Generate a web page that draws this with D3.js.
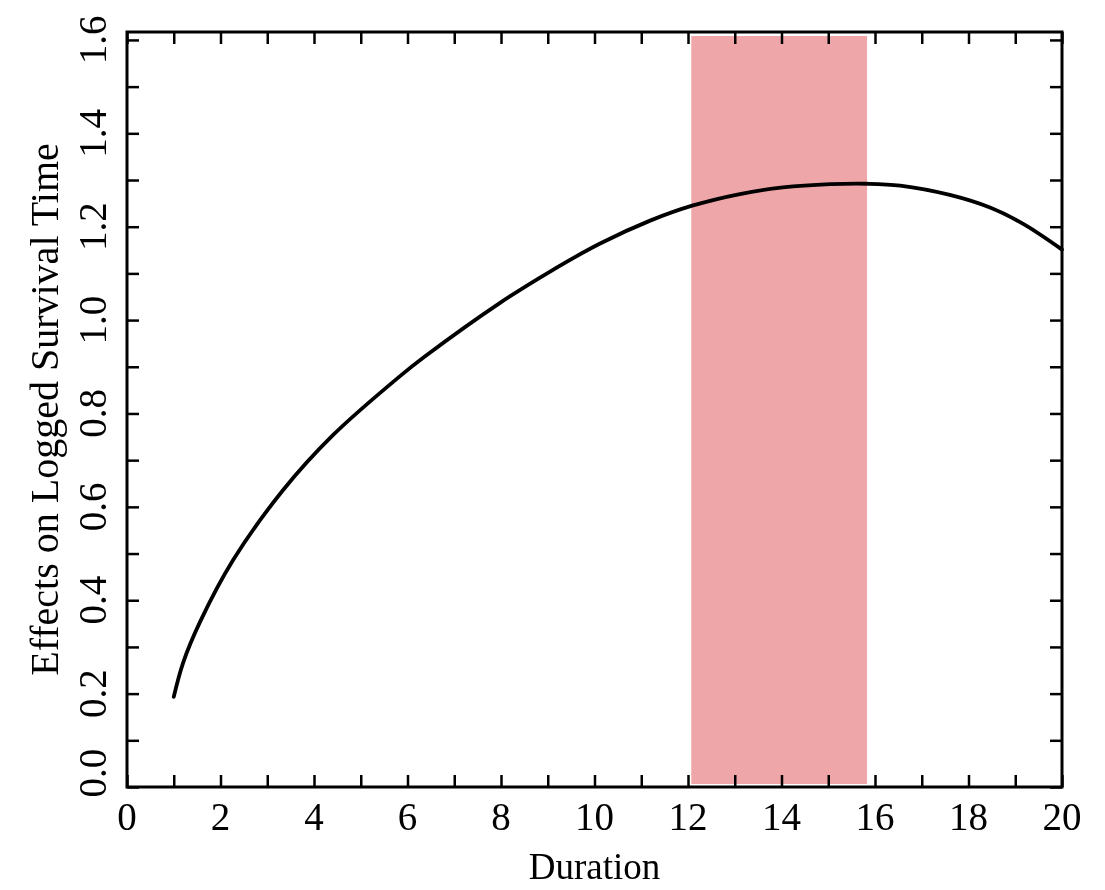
<!DOCTYPE html>
<html>
<head>
<meta charset="utf-8">
<script src="https://cdn.jsdelivr.net/npm/d3@7"></script>
<style>
  body { margin: 0; background: #fff; }
  text { font-family: "Liberation Serif", "DejaVu Serif", serif; fill: #000; }
</style>
</head>
<body>
<script>
// values
let duration = [1.0, 1.2, 1.56, 2.27, 3.34, 4.41, 5.84, 6.37, 7.98, 9.05, 10.12, 11.19, 12.09, 13.11, 14.03, 15.04, 15.83, 16.54, 17.6, 18.46, 19.17, 20.0];
let effect = [0.193, 0.266, 0.353, 0.486, 0.636, 0.754, 0.88, 0.922, 1.037, 1.104, 1.164, 1.213, 1.245, 1.27, 1.284, 1.291, 1.292, 1.288, 1.268, 1.241, 1.206, 1.151];
let band = [12.07, 15.83];
let xTickLabels = [0, 2, 4, 6, 8, 10, 12, 14, 16, 18, 20];
let yTickLabels = [0.0, 0.2, 0.4, 0.6, 0.8, 1.0, 1.2, 1.4, 1.6];

let svg = d3.select("body").append("svg")
    .attr("width", 1105)
    .attr("height", 890);

let mLeft = 127, mRight = 1062, mTop = 32, mBottom = 787;

let x = d3.scaleLinear().domain([0, 20]).range([mLeft, mRight]);
let y = d3.scaleLinear().domain([0, 1.617]).range([mBottom, mTop]);

let line = d3.line()
    .x((d, i) => x(duration[i]))
    .y(d => y(d))
    .curve(d3.curveCatmullRom);

svg.append("path")
    .datum(effect)
    .attr("d", line)
    .attr("fill", "none")
    .attr("stroke", "#000")
    .attr("stroke-width", 3.8)
    .attr("stroke-linecap", "round");

// inward ticks on all four sides
let tickLen = 12;
let xMinor = d3.range(0, 21, 1);
let yMinor = d3.range(0, 17).map(d => d / 10);

let axes = [
    d3.axisBottom(x).tickValues(xMinor).tickSize(-tickLen).tickFormat(""),
    d3.axisTop(x).tickValues(xMinor).tickSize(-tickLen).tickFormat(""),
    d3.axisLeft(y).tickValues(yMinor).tickSize(-tickLen).tickFormat(""),
    d3.axisRight(y).tickValues(yMinor).tickSize(-tickLen).tickFormat("")
];
let shifts = [[0, mBottom], [0, mTop], [mLeft, 0], [mRight, 0]];

axes.forEach((a, i) => {
    let g = svg.append("g")
        .attr("transform", `translate(${shifts[i][0]},${shifts[i][1]})`)
        .call(a);
    g.select(".domain").remove();
    g.selectAll("line").attr("stroke", "#000").attr("stroke-width", 2.5);
});

svg.append("rect")
    .attr("x", mLeft)
    .attr("y", mTop)
    .attr("width", mRight - mLeft)
    .attr("height", mBottom - mTop)
    .attr("fill", "none")
    .attr("stroke", "#000")
    .attr("stroke-width", 3);

// shaded band laid over the curve
svg.append("rect")
    .attr("x", x(band[0]))
    .attr("y", mTop + 4)
    .attr("width", x(band[1]) - x(band[0]))
    .attr("height", mBottom - mTop - 7)
    .attr("fill", "#eea6a8")
    .style("mix-blend-mode", "multiply");

svg.selectAll(".xlab")
    .data(xTickLabels)
    .enter()
    .append("text")
    .attr("class", "xlab")
    .attr("x", d => x(d))
    .attr("y", 830)
    .attr("text-anchor", "middle")
    .attr("font-size", 39)
    .text(d => d);

svg.selectAll(".ylab")
    .data(yTickLabels)
    .enter()
    .append("text")
    .attr("class", "ylab")
    .attr("transform", d => `translate(106,${d === 0 ? y(d) - 14 : y(d)}) rotate(-90)`)
    .attr("text-anchor", "middle")
    .attr("font-size", 39)
    .text(d => d.toFixed(1));

svg.append("text")
    .attr("x", (mLeft + mRight) / 2)
    .attr("y", 879)
    .attr("text-anchor", "middle")
    .attr("font-size", 37)
    .text("Duration");

svg.append("text")
    .attr("transform", `translate(58,${(mTop + mBottom) / 2}) rotate(-90)`)
    .attr("text-anchor", "middle")
    .attr("font-size", 40)
    .text("Effects on Logged Survival Time");
</script>
</body>
</html>
